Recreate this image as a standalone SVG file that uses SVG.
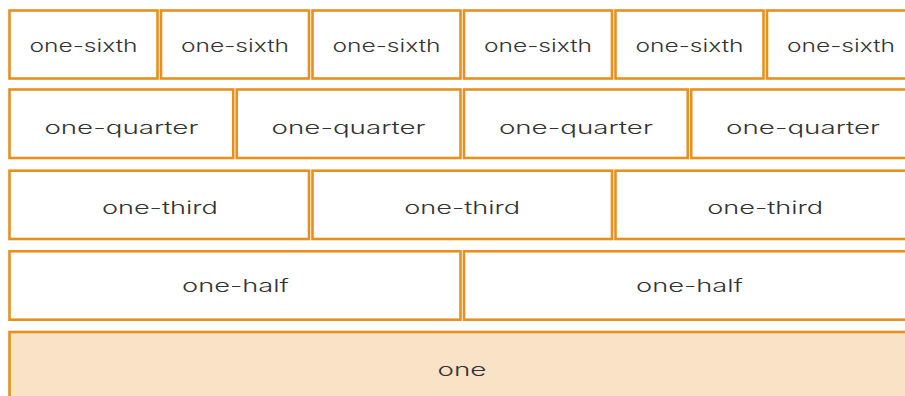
<svg xmlns="http://www.w3.org/2000/svg" width="905" height="396" viewBox="0 0 905 396">
  <style>
    .box { fill: #ffffff; stroke: #E8901F; stroke-width: 2.6; }
    .full { fill: #F9E2C6; stroke: #E8901F; stroke-width: 2.6; }
    .lbl { font-family: Inter, "DejaVu Sans", sans-serif; font-weight: 300; font-size: 17.5px; fill: #333333; text-anchor: middle; }
  </style>
  <rect width="905" height="396" fill="#ffffff"/>
  <g id="sixths">
    <g id="sixth-1"><rect class="box" x="9.5" y="10.5" width="148" height="68"/><text class="lbl" x="83.5" y="51.5" textLength="108" lengthAdjust="spacingAndGlyphs">one-sixth</text></g>
    <g id="sixth-2"><rect class="box" x="161" y="10.5" width="148" height="68"/><text class="lbl" x="235" y="51.5" textLength="108" lengthAdjust="spacingAndGlyphs">one-sixth</text></g>
    <g id="sixth-3"><rect class="box" x="312.5" y="10.5" width="148" height="68"/><text class="lbl" x="386.5" y="51.5" textLength="108" lengthAdjust="spacingAndGlyphs">one-sixth</text></g>
    <g id="sixth-4"><rect class="box" x="464" y="10.5" width="148" height="68"/><text class="lbl" x="538" y="51.5" textLength="108" lengthAdjust="spacingAndGlyphs">one-sixth</text></g>
    <g id="sixth-5"><rect class="box" x="615.5" y="10.5" width="148" height="68"/><text class="lbl" x="689.5" y="51.5" textLength="108" lengthAdjust="spacingAndGlyphs">one-sixth</text></g>
    <g id="sixth-6"><rect class="box" x="767" y="10.5" width="148" height="68"/><text class="lbl" x="841" y="51.5" textLength="108" lengthAdjust="spacingAndGlyphs">one-sixth</text></g>
  </g>
  <g id="quarters">
    <g id="quarter-1"><rect class="box" x="9.5" y="89.5" width="223.75" height="68.5"/><text class="lbl" x="121.4" y="133.5" textLength="154" lengthAdjust="spacingAndGlyphs">one-quarter</text></g>
    <g id="quarter-2"><rect class="box" x="236.75" y="89.5" width="223.75" height="68.5"/><text class="lbl" x="348.6" y="133.5" textLength="154" lengthAdjust="spacingAndGlyphs">one-quarter</text></g>
    <g id="quarter-3"><rect class="box" x="464" y="89.5" width="223.75" height="68.5"/><text class="lbl" x="575.9" y="133.5" textLength="154" lengthAdjust="spacingAndGlyphs">one-quarter</text></g>
    <g id="quarter-4"><rect class="box" x="691.25" y="89.5" width="223.75" height="68.5"/><text class="lbl" x="803.1" y="133.5" textLength="154" lengthAdjust="spacingAndGlyphs">one-quarter</text></g>
  </g>
  <g id="thirds">
    <g id="third-1"><rect class="box" x="9.5" y="170.7" width="299.5" height="68.3"/><text class="lbl" x="159.9" y="213.5" textLength="116" lengthAdjust="spacingAndGlyphs">one-third</text></g>
    <g id="third-2"><rect class="box" x="312.5" y="170.7" width="299.5" height="68.3"/><text class="lbl" x="462.2" y="213.5" textLength="116" lengthAdjust="spacingAndGlyphs">one-third</text></g>
    <g id="third-3"><rect class="box" x="615.5" y="170.7" width="299.5" height="68.3"/><text class="lbl" x="765.2" y="213.5" textLength="116" lengthAdjust="spacingAndGlyphs">one-third</text></g>
  </g>
  <g id="halves">
    <g id="half-1"><rect class="box" x="9.5" y="251.3" width="451" height="68.4"/><text class="lbl" x="235.5" y="291.7" textLength="107" lengthAdjust="spacingAndGlyphs">one-half</text></g>
    <g id="half-2"><rect class="box" x="464" y="251.3" width="451" height="68.4"/><text class="lbl" x="689.5" y="291.7" textLength="107" lengthAdjust="spacingAndGlyphs">one-half</text></g>
  </g>
  <g id="whole">
    <g id="one"><rect class="full" x="9.5" y="332" width="905.5" height="80"/><text class="lbl" x="462" y="375.7" textLength="49" lengthAdjust="spacingAndGlyphs">one</text></g>
  </g>
  <g id="connectors"/>
</svg>
